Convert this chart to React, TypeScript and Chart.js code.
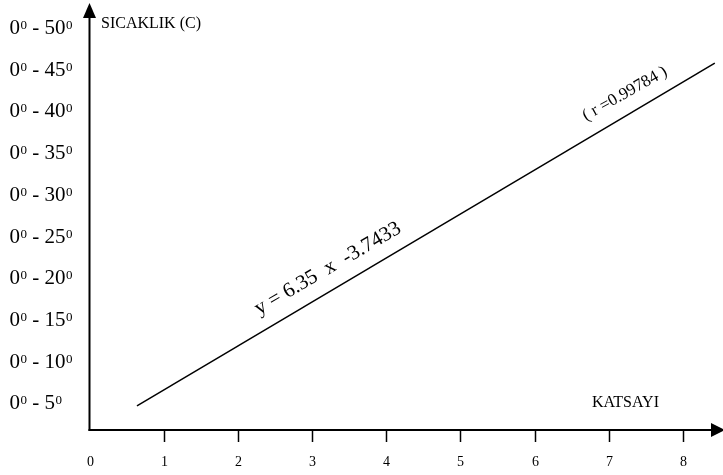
import { useEffect, useRef } from "react";
import { Chart, registerables } from "chart.js";

Chart.register(...registerables);

// ---- data ----
const xTickValues = [0, 1, 2, 3, 4, 5, 6, 7, 8];
const yTickValues = [5, 10, 15, 20, 25, 30, 35, 40, 45, 50];
const lineX = [0.64, 8.43];
const lineY = [4.58, 45.68];
const yTitle = "SICAKLIK (C)";
const xTitle = "KATSAYI";
const equationText = "y = 6.35  x  -3.7433";
const rText = "( r =0.99784 )";

const SERIF = '"Liberation Serif", "Times New Roman", serif';

export default function App() {
  const ref = useRef<HTMLCanvasElement | null>(null);

  useEffect(() => {
    document.body.style.margin = "0";
    const canvas = ref.current!;
    const axesPlugin = {
      id: "customAxes",
      afterDraw(chart: any) {
        const ctx = chart.ctx as CanvasRenderingContext2D;
        const xs = chart.scales.x;
        const ys = chart.scales.y;
        const area = chart.chartArea;
        const x0 = area.left;
        const yAxis = area.bottom;
        ctx.save();
        ctx.strokeStyle = "#000";
        ctx.fillStyle = "#000";
        // y axis
        ctx.lineWidth = 2;
        ctx.beginPath();
        ctx.moveTo(x0, yAxis + 1);
        ctx.lineTo(x0, 16);
        ctx.stroke();
        ctx.beginPath();
        ctx.moveTo(x0, 3);
        ctx.lineTo(x0 - 6.5, 18);
        ctx.lineTo(x0 + 6.5, 18);
        ctx.closePath();
        ctx.fill();
        // x axis
        ctx.beginPath();
        ctx.moveTo(x0 - 1, yAxis);
        ctx.lineTo(713, yAxis);
        ctx.stroke();
        ctx.beginPath();
        ctx.moveTo(725, yAxis);
        ctx.lineTo(711, yAxis - 7);
        ctx.lineTo(711, yAxis + 7);
        ctx.closePath();
        ctx.fill();
        // x ticks
        ctx.lineWidth = 1.5;
        for (const v of xTickValues) {
          const px = Math.round(xs.getPixelForValue(v)) + 0.5;
          if (v !== 0) {
            ctx.beginPath();
            ctx.moveTo(px, yAxis);
            ctx.lineTo(px, yAxis + 12);
            ctx.stroke();
          }
          ctx.font = `14px ${SERIF}`;
          ctx.textAlign = "center";
          ctx.textBaseline = "alphabetic";
          ctx.fillText(String(v), px, 466);
        }
        // y labels
        ctx.textAlign = "left";
        ctx.textBaseline = "alphabetic";
        for (const v of yTickValues) {
          const py = ys.getPixelForValue(v);
          const base = py + 7;
          let cx = 9.5;
          ctx.font = `21px ${SERIF}`;
          ctx.fillText("0", cx, base);
          cx += ctx.measureText("0").width;
          ctx.font = `13px ${SERIF}`;
          ctx.fillText("0", cx + 0.5, base - 5);
          cx += ctx.measureText("0").width + 0.5;
          ctx.font = `21px ${SERIF}`;
          const mid = " - " + v;
          ctx.fillText(mid, cx, base);
          cx += ctx.measureText(mid).width;
          ctx.font = `13px ${SERIF}`;
          ctx.fillText("0", cx + 0.5, base - 5);
        }
        // titles
        ctx.font = `16px ${SERIF}`;
        ctx.fillText(yTitle, 101, 28);
        ctx.fillText(xTitle, 592, 407);
        // rotated annotations
        const ang = -Math.atan2(
          ys.getPixelForValue(lineY[0]) - ys.getPixelForValue(lineY[1]),
          xs.getPixelForValue(lineX[1]) - xs.getPixelForValue(lineX[0])
        );
        ctx.save();
        ctx.translate(259, 315);
        ctx.rotate(ang + 0.01);
        ctx.font = `21px ${SERIF}`;
        ctx.fillText(equationText, 0, 0);
        ctx.restore();
        ctx.save();
        ctx.translate(586, 121);
        ctx.rotate(ang + 0.02);
        ctx.font = `17px ${SERIF}`;
        ctx.fillText(rText, 0, 0);
        ctx.restore();
        ctx.restore();
      },
    };

    const chart = new Chart(canvas, {
      type: "line",
      data: {
        datasets: [
          {
            data: lineX.map((x, i) => ({ x, y: lineY[i] })),
            borderColor: "#000",
            borderWidth: 1.5,
            pointRadius: 0,
            fill: false,
          },
        ],
      },
      options: {
        animation: false,
        responsive: false,
        devicePixelRatio: 1,
        layout: { padding: { left: 89.5, right: 3, top: 27, bottom: 45 } },
        plugins: { legend: { display: false }, tooltip: { enabled: false } },
        scales: {
          x: { type: "linear", min: 0, max: 8.5, display: false },
          y: { type: "linear", min: 1.7, max: 50, display: false },
        },
      },
      plugins: [axesPlugin],
    });
    return () => chart.destroy();
  }, []);

  return (
    <div style={{ width: 723, height: 475, background: "#fff" }}>
      <canvas ref={ref} width={723} height={475} style={{ display: "block" }} />
    </div>
  );
}
